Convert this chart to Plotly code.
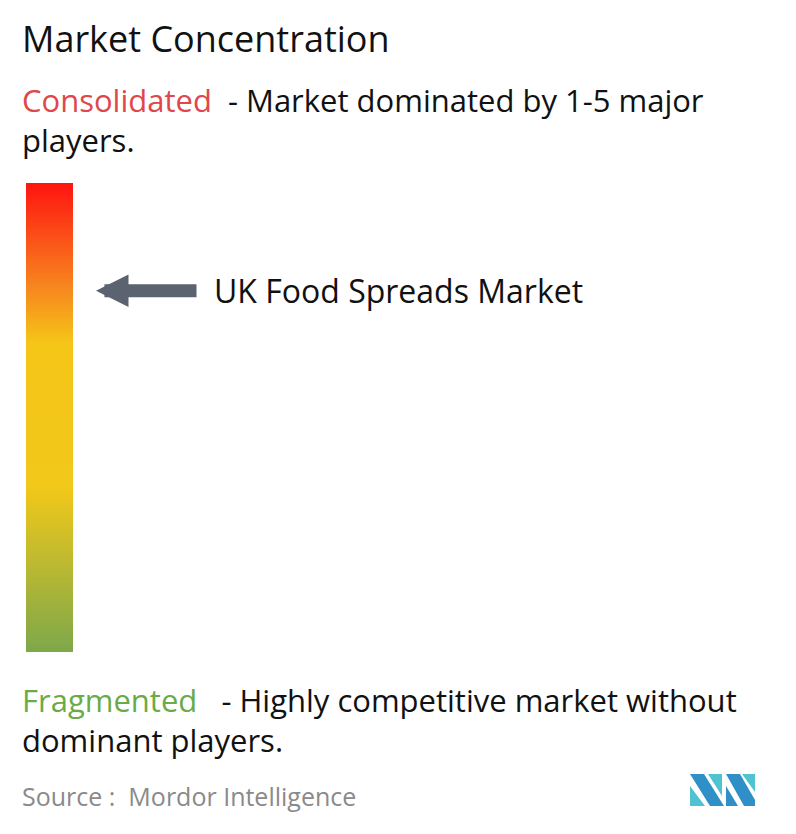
import numpy as np
import plotly.graph_objects as go

# chart content
title = "Market Concentration"
top_label = "Consolidated"
top_lines = ["  - Market dominated by 1-5 major", "players."]
bottom_label = "Fragmented"
bottom_lines = ["   - Highly competitive market without", "dominant players."]
market = "UK Food Spreads Market"
market_level = 0.77  # position on the scale, 0 = fragmented, 1 = consolidated
source = "Source :  Mordor Intelligence"

# gradient stops (0 = bottom, 1 = top)
stops = [0.0, 0.35, 0.66, 0.78, 1.0]
stop_colors = ["#7ea84a", "#f2c81a", "#f5c518", "#f7861f", "#ff1510"]

W, H = 796, 834
OFF = 8  # page body margin
bar_x0, bar_x1, bar_y0, bar_y1 = 26, 73, 183, 652
FONT = "Open Sans"


def px_(v):
    return v - OFF


fig = go.Figure()

n = 200
levels = np.linspace(0, 1, n)
edges = np.linspace(bar_y1, bar_y0, n + 1)
fig.add_trace(go.Heatmap(
    z=levels.reshape(-1, 1), x=[px_(bar_x0), px_(bar_x1)], y=edges - OFF,
    colorscale=list(zip(stops, stop_colors)), showscale=False, hoverinfo="skip",
))

arrow_y = px_(bar_y1 - market_level * (bar_y1 - bar_y0))
fig.add_annotation(x=px_(96), y=arrow_y, ax=px_(198), ay=arrow_y, xref="x", yref="y",
                   axref="x", ayref="y", showarrow=True, arrowhead=2, arrowsize=0.5,
                   arrowwidth=13, arrowcolor="#5b6371", text="")


def txt(x, y, s, size, color="#111"):
    fig.add_annotation(x=px_(x), y=px_(y), xref="x", yref="y", text=s, showarrow=False,
                       xanchor="left", align="left",
                       font=dict(size=size, color=color, family=FONT))


txt(212, arrow_y + OFF, market, 32)
txt(20, 38, title, 36)
txt(20, 120, f"<span style='color:#e0474c'>{top_label}</span>{top_lines[0]}<br>{top_lines[1]}", 31)
txt(20, 720, f"<span style='color:#6aab48'>{bottom_label}</span>{bottom_lines[0]}<br>{bottom_lines[1]}", 31)
txt(20, 796, source, 25, "#8a8a8a")

# logo
dark, light = "#2f8fc7", "#4fc3cf"
for pts, col in [
    ([(690, 774), (704, 774), (724, 806), (710, 806)], dark),
    ([(690, 786), (705, 806), (690, 806)], light),
    ([(708, 774), (722, 774), (722, 796)], light),
    ([(726, 774), (740, 774), (755, 800), (755, 806), (744, 806)], dark),
    ([(742, 774), (755, 774), (755, 792)], light),
    ([(726, 786), (738, 806), (726, 806)], dark),
]:
    path = "M " + " L ".join(f"{px_(a)} {px_(b)}" for a, b in pts) + " Z"
    fig.add_shape(type="path", path=path, xref="x", yref="y", fillcolor=col,
                  line=dict(width=0))

fig.update_xaxes(range=[0, W], visible=False, fixedrange=True)
fig.update_yaxes(range=[H, 0], visible=False, fixedrange=True)
fig.update_layout(width=W, height=H, margin=dict(l=0, r=0, t=0, b=0),
                  plot_bgcolor="white", paper_bgcolor="white", showlegend=False)

fig.write_html("out.html")
